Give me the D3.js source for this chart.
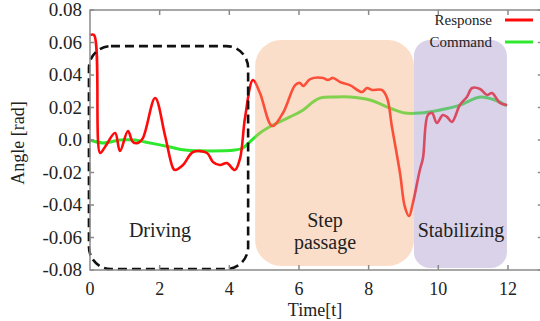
<!DOCTYPE html>
<html>
<head>
<meta charset="utf-8">
<script src="https://cdn.jsdelivr.net/npm/d3@7"></script>
<style>
  body { margin: 0; background: #fff; }
  svg { display: block; }
  svg text { font-family: "Liberation Serif", "DejaVu Serif", serif; }
</style>
</head>
<body>
<svg id="chart" width="540" height="321"></svg>
<script>
// Response (red): [time, angle]
const responseData = [
  [0, 0.0646], [0.115, 0.0646], [0.29, -0.0080], [0.43, -0.0043], [0.72, 0.0043],
  [0.86, -0.0068], [1.09, 0.0055], [1.23, -0.0012], [1.38, -0.0018], [1.52, 0.0012],
  [1.87, 0.0258], [2.15, 0.0031], [2.38, -0.0172], [2.44, -0.0185], [2.67, -0.0154],
  [2.96, -0.0074], [3.36, -0.0080], [3.53, -0.0135], [3.73, -0.0154], [3.93, -0.0142],
  [4.16, -0.0185], [4.31, -0.0111], [4.45, 0.0135], [4.68, 0.0369], [4.88, 0.0289],
  [5.23, 0.0086], [5.54, 0.0166], [5.89, 0.0338], [6.03, 0.0351], [6.12, 0.0332],
  [6.32, 0.0375], [6.69, 0.0382], [6.83, 0.0369], [6.98, 0.0382], [7.18, 0.0357],
  [7.46, 0.0338], [7.81, 0.0295], [7.95, 0.0320], [8.10, 0.0308], [8.38, 0.0308],
  [8.53, 0.0258], [8.67, 0.0080], [8.90, -0.0203], [9.04, -0.0412], [9.16, -0.0468],
  [9.27, -0.0388], [9.47, -0.0185], [9.56, -0.0111], [9.70, 0.0154], [9.82, 0.0166],
  [9.96, 0.0105], [10.13, 0.0154], [10.25, 0.0142], [10.39, 0.0111], [10.62, 0.0215],
  [10.82, 0.0265], [10.97, 0.0320], [11.20, 0.0314], [11.40, 0.0277], [11.54, 0.0289],
  [11.77, 0.0228], [11.97, 0.0215]
];

// Command (green)
const commandData = [
  [0, 0], [0.37, -0.0018], [0.86, 0], [1.29, 0], [1.58, -0.0012], [2.30, -0.0043],
  [2.73, -0.0062], [4.16, -0.0062], [4.39, -0.0049], [4.59, -0.0012], [4.88, 0.0043],
  [5.25, 0.0092], [5.74, 0.0142], [6.12, 0.0185], [6.40, 0.0234], [6.60, 0.0258],
  [7.03, 0.0265], [7.46, 0.0265], [8.04, 0.0246], [8.61, 0.0197], [9.04, 0.0166],
  [9.47, 0.0166], [10.05, 0.0185], [10.62, 0.0215], [11.20, 0.0265], [11.63, 0.0246],
  [11.97, 0.0209]
];

const xTicks = [0, 2, 4, 6, 8, 10, 12];
const yTicks = [0.08, 0.06, 0.04, 0.02, 0, -0.02, -0.04, -0.06, -0.08];
const yTickLabels = ["0.08", "0.06", "0.04", "0.02", "0.0", "-0.02", "-0.04", "-0.06", "-0.08"];

// phase regions in data units [t0, t1, vTop, vBottom]
const drivingBox = [-0.03, 4.54, 0.0578, -0.0794];
const stepBox = [4.74, 9.30, 0.0615, -0.0775];
const stabBox = [9.30, 11.97, 0.0615, -0.0788];

(function () {
const svg = d3.select("#chart").attr("font-family", "Liberation Serif, serif");
const plotLeft = 90, plotTop = 10, plotBottom = 270;
const pxPerUnit = 34.83;

const x = d3.scaleLinear().domain([0, 13]).range([plotLeft, plotLeft + 13 * pxPerUnit]);
const y = d3.scaleLinear().domain([-0.08, 0.08]).range([plotBottom, plotTop]);

const axisColor = "#8a8a8a";

// lines
const line = d3.line()
    .x(d => x(d[0]))
    .y(d => y(d[1]))
    .curve(d3.curveCatmullRom.alpha(0.5));

svg.append("path")
    .datum(commandData)
    .attr("d", line)
    .attr("fill", "none")
    .attr("stroke", "#2ee82e")
    .attr("stroke-width", 3);

svg.append("path")
    .datum(responseData)
    .attr("d", line)
    .attr("fill", "none")
    .attr("stroke", "#ff0a0a")
    .attr("stroke-width", 2.6);

// translucent phase regions on top
function regionRect(b, fill, opacity, r) {
    svg.append("rect")
        .attr("x", x(b[0]))
        .attr("y", y(b[2]))
        .attr("width", x(b[1]) - x(b[0]))
        .attr("height", y(b[3]) - y(b[2]))
        .attr("rx", r).attr("ry", r)
        .attr("fill", fill)
        .attr("fill-opacity", opacity);
}
regionRect(stepBox, "#f6b07e", 0.42, 26);
regionRect(stabBox, "#ab9bcb", 0.45, 16);

// dashed Driving box
svg.append("rect")
    .attr("x", x(drivingBox[0]))
    .attr("y", y(drivingBox[2]))
    .attr("width", x(drivingBox[1]) - x(drivingBox[0]))
    .attr("height", y(drivingBox[3]) - y(drivingBox[2]))
    .attr("rx", 22).attr("ry", 22)
    .attr("fill", "none")
    .attr("stroke", "#111")
    .attr("stroke-width", 2.6)
    .attr("stroke-dasharray", "9,5");

// frame
const plotRight = x(13);
svg.append("path")
    .attr("d", `M${plotLeft},${plotTop} H${plotRight} V${plotBottom} H${plotLeft} Z`)
    .attr("fill", "none")
    .attr("stroke", axisColor)
    .attr("stroke-width", 1.5);

// ticks (inward)
const tickG = svg.append("g").attr("stroke", axisColor).attr("stroke-width", 1.5);
xTicks.forEach(t => {
    if (t === 0) return;
    tickG.append("line").attr("x1", x(t)).attr("x2", x(t)).attr("y1", plotTop).attr("y2", plotTop + 5);
    tickG.append("line").attr("x1", x(t)).attr("x2", x(t)).attr("y1", plotBottom).attr("y2", plotBottom - 5);
});
yTicks.forEach(v => {
    tickG.append("line").attr("x1", plotLeft).attr("x2", plotLeft + 4).attr("y1", y(v)).attr("y2", y(v));
    tickG.append("line").attr("x1", plotRight).attr("x2", plotRight - 5).attr("y1", y(v)).attr("y2", y(v));
});

// tick labels
svg.append("g").selectAll("text")
    .data(xTicks).enter().append("text")
    .attr("x", d => x(d))
    .attr("y", 295)
    .attr("text-anchor", "middle")
    .attr("font-size", 18)
    .attr("fill", "#222")
    .text(d => d);

svg.append("g").selectAll("text")
    .data(yTicks).enter().append("text")
    .attr("x", 82)
    .attr("y", d => y(d) + 6)
    .attr("text-anchor", "end")
    .attr("font-size", 19)
    .attr("fill", "#222")
    .text((d, i) => yTickLabels[i]);

// axis titles
svg.append("text")
    .attr("x", 315).attr("y", 316)
    .attr("text-anchor", "middle")
    .attr("font-size", 18)
    .attr("fill", "#222")
    .text("Time[t]");

svg.append("text")
    .attr("transform", "translate(24,143) rotate(-90)")
    .attr("text-anchor", "middle")
    .attr("font-size", 18)
    .attr("fill", "#222")
    .text("Angle [rad]");

// region labels
const labelG = svg.append("g").attr("font-size", 20).attr("fill", "#222").attr("text-anchor", "middle");
labelG.append("text").attr("x", 160).attr("y", 237).text("Driving");
labelG.append("text").attr("x", 325).attr("y", 227).text("Step");
labelG.append("text").attr("x", 325).attr("y", 249).text("passage");
labelG.append("text").attr("x", 461).attr("y", 237).text("Stabilizing");

// legend
const legend = [
    { name: "Response", color: "#ff0a0a", y: 20 },
    { name: "Command", color: "#2ee82e", y: 42 }
];
legend.forEach(l => {
    svg.append("text")
        .attr("x", 492).attr("y", l.y + 5)
        .attr("text-anchor", "end")
        .attr("font-size", 15)
        .attr("fill", "#222")
        .text(l.name);
    svg.append("line")
        .attr("x1", 505).attr("x2", 533)
        .attr("y1", l.y).attr("y2", l.y)
        .attr("stroke", l.color)
        .attr("stroke-width", 3);
});
})();
</script>
</body>
</html>
